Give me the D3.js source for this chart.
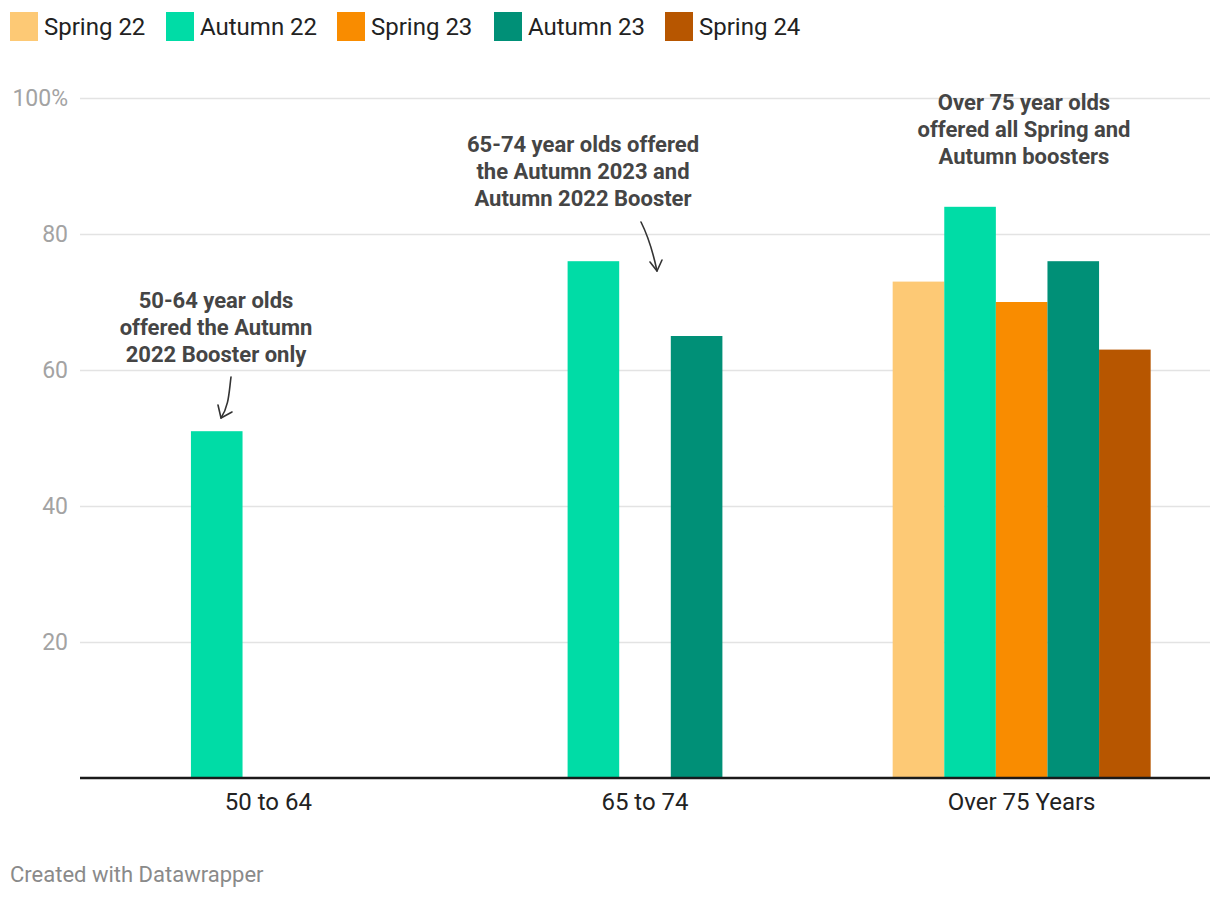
<!DOCTYPE html>
<html>
<head>
<meta charset="utf-8">
<script src="https://cdn.jsdelivr.net/npm/d3@7"></script>
<style>
  html, body { margin: 0; padding: 0; background: #fff; }
  svg { display: block; font-family: Roboto, "Noto Sans", sans-serif; }
</style>
</head>
<body>
<svg id="chart" width="1220" height="900"></svg>
<script>
const categories = ["50 to 64", "65 to 74", "Over 75 Years"];
const seriesNames = ["Spring 22", "Autumn 22", "Spring 23", "Autumn 23", "Spring 24"];
const seriesColors = ["#fdc975", "#00dca6", "#f98c00", "#009077", "#b75600"];
const spring22 = [null, null, 73];
const autumn22 = [51, 76, 84];
const spring23 = [null, null, 70];
const autumn23 = [null, 65, 76];
const spring24 = [null, null, 63];
const seriesValues = [spring22, autumn22, spring23, autumn23, spring24];
const yTicks = [20, 40, 60, 80, 100];
const yTickLabels = ["20", "40", "60", "80", "100%"];
const annotations = [
  { cat: "50 to 64", lines: ["50-64 year olds", "offered the Autumn", "2022 Booster only"] },
  { cat: "65 to 74", lines: ["65-74 year olds offered", "the Autumn 2023 and", "Autumn 2022 Booster"] },
  { cat: "Over 75 Years", lines: ["Over 75 year olds", "offered all Spring and", "Autumn boosters"] }
];

(function () {
const svg = d3.select("#chart");
const mLeft = 80, mRight = 1210, mTop = 98, mBottom = 778;

const x0 = d3.scaleBand().domain(categories).range([mLeft, mRight]).paddingInner(0).paddingOuter(0);
const x1 = d3.scaleBand().domain(seriesNames).range([0, 258]);
const y = d3.scaleLinear().domain([0, 100]).range([mBottom, mTop]);

// Legend
const legendX = [10, 166, 337, 494, 665];
const lg = svg.append("g");
seriesNames.forEach((s, i) => {
  lg.append("rect").attr("x", legendX[i]).attr("y", 12).attr("width", 28).attr("height", 29).attr("fill", seriesColors[i]);
  lg.append("text").attr("x", legendX[i] + 34).attr("y", 35).attr("font-size", 24).attr("fill", "#222").text(s);
});

// Gridlines + y labels
const yAxis = d3.axisLeft(y).tickValues(yTicks).tickSize(-(mRight - mLeft)).tickFormat((d, i) => yTickLabels[i]);
const ga = svg.append("g").attr("transform", `translate(${mLeft},0)`).call(yAxis);
ga.select(".domain").remove();
ga.selectAll(".tick line").attr("stroke", "#e3e3e3").attr("stroke-width", 1.5);
ga.selectAll(".tick text").attr("x", -12).attr("font-size", 23).attr("fill", "#a3a3a3")
  .attr("font-family", "Roboto, sans-serif");

// Bars
categories.forEach((c, ci) => {
  const gx = x0(c) + x0.bandwidth() / 2 - 129;
  seriesNames.forEach((s, si) => {
    const v = seriesValues[si][ci];
    if (v == null) return;
    svg.append("rect")
      .attr("x", gx + x1(s))
      .attr("y", y(v))
      .attr("width", x1.bandwidth())
      .attr("height", y(0) - y(v))
      .attr("fill", seriesColors[si]);
  });
});

// X axis
const xAxis = d3.axisBottom(x0).tickSize(0);
const gxa = svg.append("g").attr("transform", `translate(0,${mBottom})`).call(xAxis);
gxa.select(".domain").attr("stroke", "#1a1a1a").attr("stroke-width", 2.5).attr("d", `M${mLeft},0H${mRight}`);
gxa.selectAll(".tick text").attr("dy", 0).attr("y", 32).attr("font-size", 24).attr("fill", "#222")
  .attr("font-family", "Roboto, sans-serif");

// Annotations
const annPos = [
  { cx: 216, y0: 308 },
  { cx: 583, y0: 152 },
  { cx: 1024, y0: 110 }
];
annotations.forEach((a, i) => {
  const t = svg.append("text").attr("text-anchor", "middle").attr("font-size", 22)
    .attr("font-weight", "bold").attr("fill", "#454545");
  a.lines.forEach((l, j) => {
    t.append("tspan").attr("x", annPos[i].cx).attr("y", annPos[i].y0 + j * 27).text(l);
  });
});

// Arrows (hand-drawn style)
const arrowStroke = "#333";
function arrow(path, head) {
  svg.append("path").attr("d", path).attr("fill", "none").attr("stroke", arrowStroke)
    .attr("stroke-width", 1.6).attr("stroke-linecap", "round").attr("stroke-linejoin", "round");
  svg.append("path").attr("d", head).attr("fill", "none").attr("stroke", arrowStroke)
    .attr("stroke-width", 1.6).attr("stroke-linecap", "round").attr("stroke-linejoin", "round");
}
arrow("M231,377 C229,392 229,406 221,418", "M218,405 L221,418 L232,412");
arrow("M641,222 C648,236 653,252 657,271", "M650,262 L657,271 L662,260");

// Footer
svg.append("text").attr("x", 10).attr("y", 882).attr("font-size", 22).attr("fill", "#8a8a8a")
  .text("Created with Datawrapper");
})();
</script>
</body>
</html>
